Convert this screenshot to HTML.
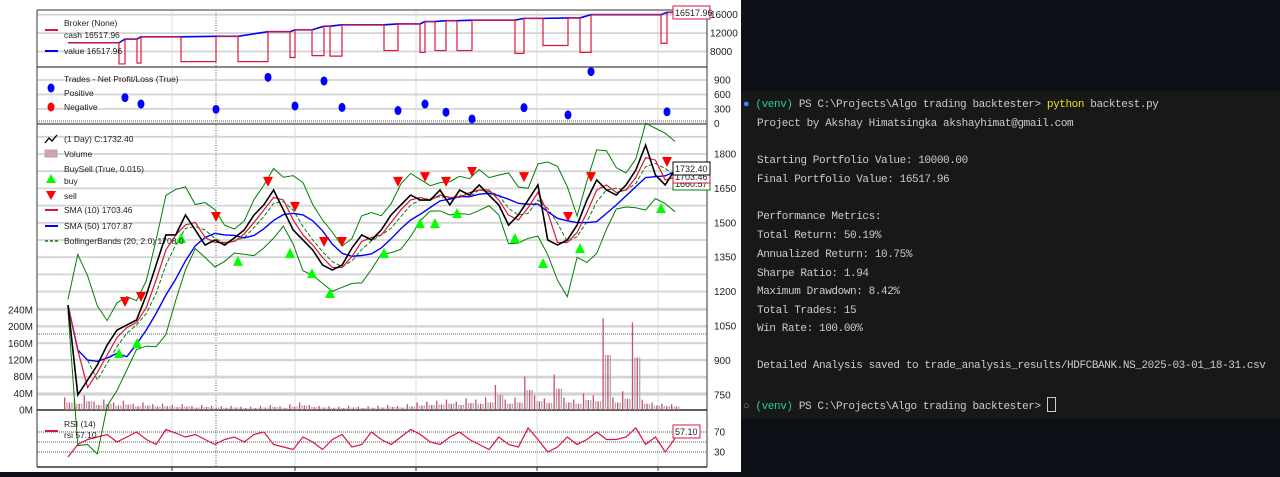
<!DOCTYPE html>
<html><head><meta charset="utf-8"><style>
html,body{margin:0;padding:0;width:1280px;height:472px;overflow:hidden;background:#0d1117}
#chart{position:absolute;left:0;top:0;width:741px;height:472px;background:#fff}
#term{position:absolute;left:741px;top:91px;width:539px;height:327px;background:#181818;font-family:"Liberation Mono",monospace;font-size:11px;letter-spacing:-0.4px;color:#cccccc}
.ln{position:absolute;left:16px;white-space:pre}
svg text{font-family:"Liberation Sans",sans-serif}
</style></head><body>
<div id="chart">
<svg id="svg" width="741" height="472" xmlns="http://www.w3.org/2000/svg"></svg>
</div>
<div id="term">
<div class="ln" style="top:8px;left:2px"><span style="color:#3b8eea">●</span> <span style="color:#23d18b">(venv)</span> PS C:\Projects\Algo trading backtester&gt; <span style="color:#e5e510">python</span> backtest.py</div>
<div class="ln" style="top:27px">Project by Akshay Himatsingka akshayhimat@gmail.com</div>
<div class="ln" style="top:64px">Starting Portfolio Value: 10000.00</div>
<div class="ln" style="top:83px">Final Portfolio Value: 16517.96</div>
<div class="ln" style="top:120px">Performance Metrics:</div>
<div class="ln" style="top:139px">Total Return: 50.19%</div>
<div class="ln" style="top:158px">Annualized Return: 10.75%</div>
<div class="ln" style="top:177px">Sharpe Ratio: 1.94</div>
<div class="ln" style="top:195px">Maximum Drawdown: 8.42%</div>
<div class="ln" style="top:214px">Total Trades: 15</div>
<div class="ln" style="top:232px">Win Rate: 100.00%</div>
<div class="ln" style="top:269px">Detailed Analysis saved to trade_analysis_results/HDFCBANK.NS_2025-03-01_18-31.csv</div>
<div class="ln" style="top:306px;left:2px"><span style="color:#888">○</span> <span style="color:#23d18b">(venv)</span> PS C:\Projects\Algo trading backtester&gt; <span style="display:inline-block;width:7px;height:13px;border:1px solid #ccc;vertical-align:-3px"></span></div>
</div>
<script>
const closes=[1141,749,814,880,967,1032,1054,1076,1185,1316,1447,1447,1534,1469,1403,1425,1403,1434,1469,1534,1578,1643,1556,1469,1425,1381,1316,1294,1316,1390,1447,1425,1469,1534,1578,1621,1599,1599,1643,1578,1643,1621,1665,1621,1578,1490,1534,1599,1665,1425,1403,1425,1490,1599,1687,1643,1621,1665,1730,1839,1708,1665,1732];
const volumes=[30,25,35,20,25,18,22,15,18,14,15,12,14,10,12,10,9,10,8,8,10,12,9,14,18,12,10,9,8,10,8,9,10,12,10,14,18,20,22,25,20,28,25,30,60,25,30,80,35,28,85,30,25,40,35,220,30,45,210,25,18,15,14];
const rsiVals=[20,45,55,60,65,50,60,70,55,45,75,68,60,65,55,45,55,60,50,65,70,45,40,35,60,50,35,55,65,40,45,70,55,45,60,75,65,50,45,60,70,55,45,35,60,45,40,78,55,30,40,60,45,55,70,55,55,60,78,45,60,30,57.1];
const tradeEntry=[51,69,113,170,222,244,262,316,352,367,389,447,475,512,593];
const tradeExit=[57,73,148,200,227,256,274,330,357,378,404,456,500,523,599];
const cashDuring=[5300,5500,5800,5800,6700,7100,7000,8200,7800,8200,8200,7600,9300,7800,9800];
const cashAfter=[10700,11200,11300,12300,12700,13500,13800,14000,14500,14700,14800,15200,15300,16000,16518];
const tradePnl=[535,400,290,955,360,880,330,265,400,230,90,325,175,1075,240];
const priceTicks=[750,900,1050,1200,1350,1500,1650,1800];
const volTicks=[0,40,80,120,160,200,240];
const brokerTicks=[8000,12000,16000];
const pnlTicks=[0,300,600,900];
const rsiTicks=[30,70];

const svg=document.getElementById('svg');
const NS='http://www.w3.org/2000/svg';
function el(t,a,txt){const e=document.createElementNS(NS,t);for(const k in a)e.setAttribute(k,a[k]);if(txt!==undefined)e.textContent=txt;svg.appendChild(e);return e;}
const L=37,R=707;
const dayX=d=>68+d;
const idxX=(i,n)=>68+i*(607/(n-1));
const yPrice=v=>154+(1800-v)*0.2293;
const yVol=v=>410-v*0.417;
const yBroker=v=>14.7+(16000-v)*0.0046;
const yPnl=v=>123.3-v*0.0481;
const yRsi=v=>442-(v-50)*0.5;

function hgrid(y,dash){const g=el('line',{x1:L,x2:R,y1:y,y2:y,stroke:'#d4d4d4','stroke-width':dash?1:1.8});if(dash){g.setAttribute('stroke','#555');g.setAttribute('stroke-dasharray','1,1');}}
[172,295,416,537,658].forEach(x=>{const g=el('line',{x1:x,x2:x,y1:10,y2:467,stroke:'#ddd','stroke-width':1});
const t=el('line',{x1:x,x2:x,y1:467,y2:471,stroke:'#333'});});
const vd=el('line',{x1:216,x2:216,y1:10,y2:467,stroke:'#555','stroke-dasharray':'1,1.5'});
brokerTicks.forEach(v=>{hgrid(yBroker(v));const t=el('text',{x:710,y:yBroker(v)+3.5,'font-size':10,fill:'#222'},v);});
pnlTicks.forEach(v=>{hgrid(yPnl(v));const t=el('text',{x:714,y:yPnl(v)+3.5,'font-size':10,fill:'#222'},v);});
hgrid(121,true);
for(let v=750;v<=1875;v+=75){if(yPrice(v)>126&&yPrice(v)<408)hgrid(yPrice(v));}
priceTicks.forEach(v=>{const t=el('text',{x:714,y:yPrice(v)+3.5,'font-size':10,fill:'#222'},v);});
volTicks.forEach(v=>{hgrid(yVol(v));const t=el('text',{x:33,y:yVol(v)+3.5,'font-size':10,fill:'#222','text-anchor':'end'},v+'M');});
hgrid(334,true);
rsiTicks.forEach(v=>{hgrid(yRsi(v),true);const t=el('text',{x:714,y:yRsi(v)+3.5,'font-size':10,fill:'#222'},v);});
hgrid(442,true);
[[10,'#999',2],[67,'#888',2],[124,'#888',2],[410,'#333',1.5],[467,'#333',1.5]].forEach(([y,c,w])=>{const b=el('line',{x1:L,x2:R,y1:y,y2:y,stroke:c,'stroke-width':w});});
[L,R].forEach(x=>{const b=el('line',{x1:x,x2:x,y1:10,y2:467,stroke:'#333','stroke-width':1});});

let cashPts=[[0,9900]],valPts=[[0,9900]],prev=9900;
for(let i=0;i<tradeEntry.length;i++){
 cashPts.push([tradeEntry[i],prev],[tradeEntry[i],cashDuring[i]],[tradeExit[i],cashDuring[i]],[tradeExit[i],cashAfter[i]]);
 valPts.push([tradeEntry[i],prev],[tradeExit[i],cashAfter[i]]);
 prev=cashAfter[i];
}
cashPts.push([605,prev]);valPts.push([605,prev]);
const vp=el('polyline',{points:valPts.map(p=>dayX(p[0])+','+yBroker(p[1])).join(' '),fill:'none',stroke:'#0000ff','stroke-width':1.6});

const cp=el('polyline',{points:cashPts.map(p=>dayX(p[0])+','+yBroker(p[1])).join(' '),fill:'none',stroke:'#dc143c','stroke-width':1.2});

tradeExit.forEach((d,i)=>{const c=el('ellipse',{cx:dayX(d),cy:yPnl(tradePnl[i]),rx:3.5,ry:4.5,fill:'#0000ff'});});

volumes.forEach((v,i)=>{const x=idxX(i,volumes.length);for(let k=0;k<4;k++){const vv=k==0?v:Math.min(v,v*0.6);const b=el('rect',{x:x-4+k*2.4,y:yVol(vv),width:1.3,height:410-yVol(vv),fill:k%2?'#aaa':'#c8506a'});}});

function sma(a,w){return a.map((_,i)=>{const s=a.slice(Math.max(0,i-w+1),i+1);return s.reduce((p,c)=>p+c,0)/s.length;});}
function sd(a,w){return a.map((_,i)=>{const s=a.slice(Math.max(0,i-w+1),i+1);const m=s.reduce((p,c)=>p+c,0)/s.length;return Math.sqrt(s.reduce((p,c)=>p+(c-m)*(c-m),0)/s.length);});}
const s10=sma(closes,2),s50=sma(closes,6),mid=sma(closes,3),dev=sd(closes,4);
const line=(arr,col,w,name,dash)=>{const p=el('polyline',{points:arr.map((v,i)=>idxX(i,arr.length)+','+yPrice(v)).join(' '),fill:'none',stroke:col,'stroke-width':w});if(dash)p.setAttribute('stroke-dasharray',dash);};
line(mid.map((m,i)=>m+2*dev[i]+25),'#008000',1,'bollinger-top');
line(mid.map((m,i)=>m-2*dev[i]-25),'#008000',1,'bollinger-bot');
line(mid,'#008000',1,'bollinger-mid','4,2');
line(s50,'#0000ff',1.4,'sma-50-line');
line(s10,'#dc143c',1.2,'sma-10-line');
line(closes,'#000',1.6,'close-line');
tradeEntry.forEach((d,i)=>{const x=dayX(d),y=yPrice(closes[Math.round(d/607*(closes.length-1))])+22;const t=el('polygon',{points:`${x-5},${y+6} ${x+5},${y+6} ${x},${y-4}`,fill:'#00ff00'});});
tradeExit.forEach((d,i)=>{const x=dayX(d),y=yPrice(closes[Math.round(d/607*(closes.length-1))])-22;const t=el('polygon',{points:`${x-5},${y-6} ${x+5},${y-6} ${x},${y+4}`,fill:'#ff0000'});});
const rp=el('polyline',{points:rsiVals.map((v,i)=>idxX(i,rsiVals.length)+','+yRsi(v)).join(' '),fill:'none',stroke:'#dc143c','stroke-width':1.2});


function txt(x,y,s,name){const t=el('text',{x:x,y:y,'font-size':8.5,fill:'#222'},s);}
function lg(x1,y,c,name){const l=el('line',{x1:x1,x2:x1+13,y1:y,y2:y,stroke:c,'stroke-width':2});}
txt(64,26,'Broker (None)','broker-legend-title');lg(45,30,'#dc143c','cash-legend-swatch');txt(64,38,'cash 16517.96','cash-legend');lg(45,51,'#0000ff','value-legend-swatch');txt(64,54,'value 16517.96','value-legend');
txt(64,82,'Trades - Net Profit/Loss (True)','trades-legend-title');
el('ellipse',{cx:51,cy:88,rx:3.5,ry:4.5,fill:'#00f'});txt(64,96,'Positive','positive-legend');
el('ellipse',{cx:51,cy:107,rx:3.5,ry:4.5,fill:'#f00'});txt(64,110,'Negative','negative-legend');
el('polyline',{points:'45,143 49,138 52,141 57,135',fill:'none',stroke:'#000','stroke-width':1.3});txt(64,142,'(1 Day) C:1732.40','close-legend');
el('rect',{x:45,y:150,width:12,height:7,fill:'#d8a0a8',stroke:'#aaa'});txt(64,157,'Volume','volume-legend');
txt(64,172,'BuySell (True, 0.015)','buysell-legend');
el('polygon',{points:'46,183 56,183 51,174',fill:'#00ff00'});txt(64,184,'buy','buy-legend');
el('polygon',{points:'46,191 56,191 51,200',fill:'#ff0000'});txt(64,199,'sell','sell-legend');
lg(45,210,'#dc143c','sma10-swatch');txt(64,213,'SMA (10) 1703.46','sma10-legend');
lg(45,226,'#0000ff','sma50-swatch');txt(64,229,'SMA (50) 1707.87','sma50-legend');
const bl=el('line',{x1:45,x2:58,y1:241,y2:241,stroke:'#008000','stroke-width':1.5,'stroke-dasharray':'3,2'});txt(64,244,'BollingerBands (20, 2.0) 1708.0','bb-legend');
lg(45,431,'#dc143c','rsi-swatch');txt(64,427,'RSI (14)','rsi-legend-title');txt(64,438,'rsi 57.10','rsi-legend');
function tag(x,y,w,s,c,name){const r=el('rect',{x:x,y:y,width:w,height:13,fill:'#fff',stroke:c,'stroke-width':1});const t=el('text',{x:x+2,y:y+10,'font-size':9,fill:'#222'},s);}
tag(673,177,37,'1660.57','#008000','bb-tag');tag(673,170,37,'1703.46','#dc143c','sma-tag');
tag(673,6,37,'16517.96','#dc143c','value-tag');tag(673,162,37,'1732.40','#000','close-tag');tag(673,425,27,'57.10','#dc143c','rsi-tag');
</script>
</body></html>
